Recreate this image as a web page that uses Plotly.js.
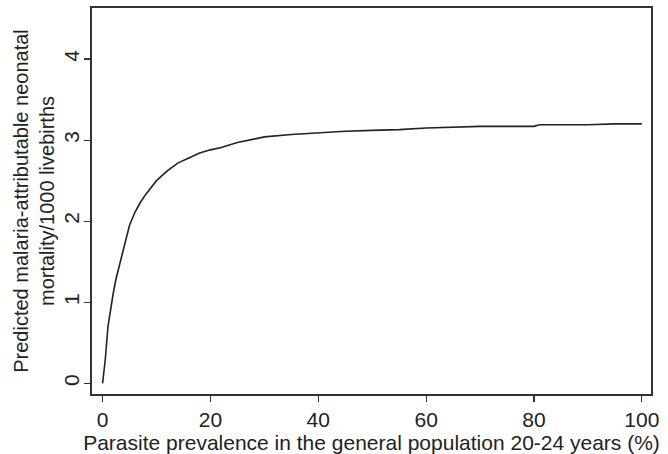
<!DOCTYPE html>
<html>
<head>
<meta charset="utf-8">
<script src="https://cdn.plot.ly/plotly-3.0.1.min.js"></script>
<style>html,body{margin:0;padding:0;background:#fff;}#chart{width:668px;height:454px;}</style>
</head>
<body>
<div id="chart"></div>
<script>
var prevalence = [0, 0.5, 1, 1.5, 2, 2.5, 3, 4, 5, 6, 7, 8, 9, 10, 12, 14, 16, 18, 20, 22, 25, 28, 30, 35, 40, 45, 50, 55, 60, 65, 70, 75, 80, 81, 85, 90, 95, 100];
var mortality = [0, 0.29, 0.70, 0.93, 1.12, 1.29, 1.43, 1.68, 1.95, 2.11, 2.23, 2.33, 2.42, 2.50, 2.62, 2.72, 2.78, 2.84, 2.88, 2.91, 2.97, 3.01, 3.04, 3.07, 3.09, 3.11, 3.12, 3.13, 3.15, 3.16, 3.17, 3.17, 3.17, 3.19, 3.19, 3.19, 3.20, 3.20];
var xTicks = [0, 20, 40, 60, 80, 100];
var yTicks = [0, 1, 2, 3, 4];

var font = {family: 'Liberation Sans, Arial, sans-serif', size: 21, color: '#222'};
var trace = {
  x: prevalence, y: mortality, type: 'scatter', mode: 'lines',
  line: {color: '#222', width: 1.6}, hoverinfo: 'none'
};
var layout = {
  width: 668, height: 454,
  margin: {l: 92, r: 17, t: 8, b: 60},
  paper_bgcolor: '#fff', plot_bgcolor: '#fff',
  font: font,
  showlegend: false,
  xaxis: {
    range: [-1.96, 101.7], tickvals: xTicks, ticktext: xTicks.map(String),
    ticks: 'outside', ticklen: 6, tickwidth: 1.2, tickcolor: '#333',
    showline: true, linecolor: '#333', linewidth: 1.6, mirror: true,
    showgrid: false, zeroline: false,
    tickfont: {size: 21},
    title: {text: 'Parasite prevalence in the general population 20-24 years (%)', font: {size: 21}, standoff: 4}
  },
  yaxis: {
    range: [-0.132, 4.63], tickvals: yTicks, ticktext: yTicks.map(String),
    ticks: 'outside', ticklen: 6, tickwidth: 1.2, tickcolor: '#333',
    showline: true, linecolor: '#333', linewidth: 1.6, mirror: true,
    showgrid: false, zeroline: false, tickangle: -90,
    ticklabelstandoff: -3,
    tickfont: {size: 21},
    title: {text: 'Predicted malaria-attributable neonatal<br>mortality/1000 livebirths', font: {size: 20}, standoff: 0}
  }
};
Plotly.newPlot('chart', [trace], layout, {staticPlot: true, displayModeBar: false});
</script>
</body>
</html>
